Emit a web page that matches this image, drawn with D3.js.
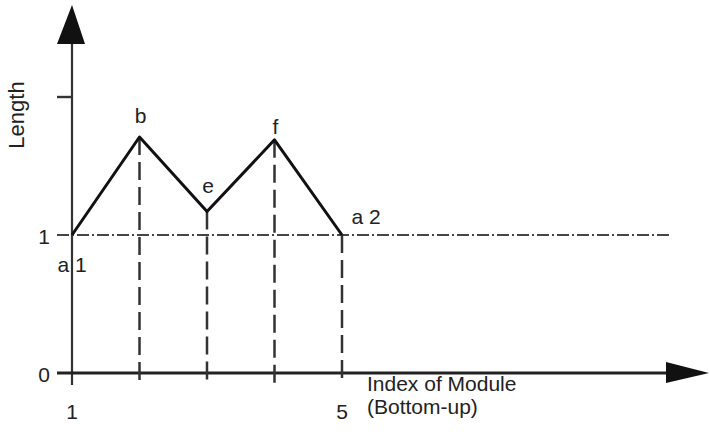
<!DOCTYPE html>
<html><head><meta charset="utf-8">
<script src="https://cdn.jsdelivr.net/npm/d3@7"></script>
<style>body{margin:0;background:#fff}svg{display:block}text{font-family:"Liberation Sans",Arial,sans-serif;fill:#222}</style>
</head><body>
<script>
const moduleIndex = [1, 2, 3, 4, 5];
const lengthValues = [1, 1.71, 1.17, 1.69, 1];
const pointLabels = ["a 1", "b", "e", "f", "a 2"];
const xTickLabels = ["1", "5"];
const xTickValues = [1, 5];
const yTickValues = [0, 1, 2];
const yTickLabels = ["0", "1", ""];

const W = 710, H = 443;
const svg = d3.select("body").append("svg").attr("width", W).attr("height", H);
const x = d3.scaleLinear().domain([1, 5]).range([72, 342]);
const y = d3.scaleLinear().domain([0, 1]).range([373, 235]);
const ink = "#333";

// y axis line
svg.append("line").attr("x1", x(1)).attr("x2", x(1)).attr("y1", y(0) + 12).attr("y2", 40)
  .attr("stroke", ink).attr("stroke-width", 2.2);
// x axis line
svg.append("line").attr("x1", x(1) - 15).attr("x2", 670).attr("y1", y(0)).attr("y2", y(0))
  .attr("stroke", "#222").attr("stroke-width", 2.8);
// arrows
svg.append("path").attr("d", `M${x(1)},5 L${x(1) - 15},44 L${x(1) + 13},44 Z`).attr("fill", "#111");
svg.append("path").attr("d", `M709,${y(0)} L666,${y(0) - 11} L666,${y(0) + 10} Z`).attr("fill", "#111");

// y ticks
svg.selectAll(".ytick").data(yTickValues.filter(v => v === 2)).enter().append("line")
  .attr("x1", x(1) - 15).attr("x2", x(1)).attr("y1", d => y(d)).attr("y2", d => y(d))
  .attr("stroke", ink).attr("stroke-width", 2.4);
svg.selectAll(".ylab").data(yTickValues).enter().append("text")
  .attr("x", x(1) - 22).attr("y", d => y(d) + 9).attr("text-anchor", "end")
  .attr("font-size", 21).text((d, i) => yTickLabels[i]);

// dash-dot reference line at length 1
svg.append("line").attr("x1", x(1) - 15).attr("x2", 672).attr("y1", y(1)).attr("y2", y(1))
  .attr("stroke", "#444").attr("stroke-width", 1.8).attr("stroke-dasharray", "12,3,2,3");

// dashed verticals
svg.selectAll(".vd").data(moduleIndex.slice(1)).enter().append("line")
  .attr("x1", d => x(d)).attr("x2", d => x(d))
  .attr("y1", (d, i) => y(lengthValues[i + 1])).attr("y2", y(0) + 12)
  .attr("stroke", ink).attr("stroke-width", 2.5).attr("stroke-dasharray", "18,7");

// main polyline
const line = d3.line().x((d, i) => x(moduleIndex[i])).y(d => y(d));
svg.append("path").attr("d", line(lengthValues)).attr("fill", "none")
  .attr("stroke", "#111").attr("stroke-width", 3).attr("stroke-linejoin", "round");

// point labels
const lblOff = [[0, 37], [1, -14], [1, -19], [1, -6], [24, -11]];
svg.selectAll(".pl").data(pointLabels).enter().append("text")
  .attr("x", (d, i) => x(moduleIndex[i]) + lblOff[i][0])
  .attr("y", (d, i) => y(lengthValues[i]) + lblOff[i][1])
  .attr("text-anchor", "middle").attr("font-size", 21).text(d => d);

// x tick labels
svg.selectAll(".xl").data(xTickValues).enter().append("text")
  .attr("x", d => x(d)).attr("y", 419).attr("text-anchor", "middle")
  .attr("font-size", 21).text((d, i) => xTickLabels[i]);

// axis titles
svg.append("text").attr("x", 367).attr("y", 391).attr("font-size", 21).text("Index of Module");
svg.append("text").attr("x", 367).attr("y", 414).attr("font-size", 21).text("(Bottom-up)");
svg.append("text").attr("transform", "translate(24,115) rotate(-90)").attr("text-anchor", "middle")
  .attr("font-size", 22).text("Length");
</script>
</body></html>
